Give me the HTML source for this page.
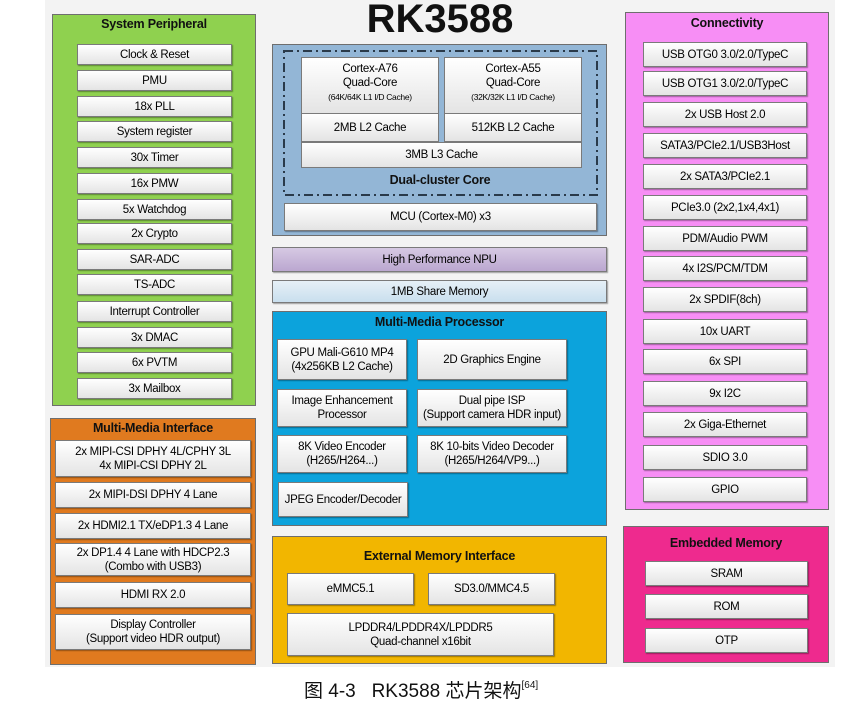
<!DOCTYPE html>
<html><head><meta charset="utf-8"><style>
*{margin:0;padding:0;box-sizing:border-box}
body{width:843px;height:702px;background:#fff;position:relative;overflow:hidden;font-family:"Liberation Sans",sans-serif;color:#111}
.a{position:absolute}
.bg{left:45px;top:0;width:790px;height:667px;background:#f3f3f3}
.g{position:absolute;border:1px solid #6e6e6e}
.b{position:absolute;background:linear-gradient(#ffffff,#e4e4e4);border:1px solid #7a7a7a;box-shadow:1px 1px 1px rgba(0,0,0,.35);display:flex;align-items:center;justify-content:center;text-align:center;font-size:11.5px;line-height:14px;letter-spacing:-.3px;color:#000}
.t{position:absolute;font-weight:bold;font-size:12.5px;text-align:center;letter-spacing:-.2px}
</style></head><body>
<div class="a bg"></div>
<div class="a" style="left:0;width:843px;top:-3px;text-align:center;font-size:40px;font-weight:bold;padding-left:37px">RK3588</div>

<!-- System Peripheral -->
<div class="g" style="left:52px;top:14px;width:204px;height:392px;background:#8fd14f"></div>
<div class="t" style="left:52px;width:204px;top:17px">System Peripheral</div>
<div class="b" style="left:77px;top:44px;width:155px;height:21px">Clock &amp; Reset</div>
<div class="b" style="left:77px;top:70px;width:155px;height:21px">PMU</div>
<div class="b" style="left:77px;top:96px;width:155px;height:21px">18x PLL</div>
<div class="b" style="left:77px;top:121px;width:155px;height:21px">System register</div>
<div class="b" style="left:77px;top:147px;width:155px;height:21px">30x Timer</div>
<div class="b" style="left:77px;top:173px;width:155px;height:21px">16x PMW</div>
<div class="b" style="left:77px;top:199px;width:155px;height:21px">5x Watchdog</div>
<div class="b" style="left:77px;top:223px;width:155px;height:21px">2x Crypto</div>
<div class="b" style="left:77px;top:249px;width:155px;height:21px">SAR-ADC</div>
<div class="b" style="left:77px;top:274px;width:155px;height:21px">TS-ADC</div>
<div class="b" style="left:77px;top:301px;width:155px;height:21px">Interrupt Controller</div>
<div class="b" style="left:77px;top:327px;width:155px;height:21px">3x DMAC</div>
<div class="b" style="left:77px;top:352px;width:155px;height:21px">6x PVTM</div>
<div class="b" style="left:77px;top:378px;width:155px;height:21px">3x Mailbox</div>

<!-- Multi-Media Interface -->
<div class="g" style="left:50px;top:418px;width:206px;height:247px;background:#e07a1f"></div>
<div class="t" style="left:50px;width:206px;top:421px">Multi-Media Interface</div>
<div class="b" style="left:55px;top:440px;width:196px;height:37px">2x MIPI-CSI DPHY 4L/CPHY 3L<br>4x MIPI-CSI DPHY 2L</div>
<div class="b" style="left:55px;top:482px;width:196px;height:26px">2x MIPI-DSI DPHY 4 Lane</div>
<div class="b" style="left:55px;top:513px;width:196px;height:26px">2x HDMI2.1 TX/eDP1.3 4 Lane</div>
<div class="b" style="left:55px;top:543px;width:196px;height:33px">2x DP1.4 4 Lane with HDCP2.3<br>(Combo with USB3)</div>
<div class="b" style="left:55px;top:582px;width:196px;height:26px">HDMI RX 2.0</div>
<div class="b" style="left:55px;top:614px;width:196px;height:36px">Display Controller<br>(Support video HDR output)</div>

<!-- CPU -->
<div class="g" style="left:272px;top:44px;width:335px;height:192px;background:#93b6d6"></div>
<svg class="a" style="left:283px;top:50px" width="315" height="146"><rect x="1" y="1" width="313" height="144" fill="none" stroke="#2a3a4a" stroke-width="2" stroke-dasharray="9 4 2 4"/></svg>
<div class="b" style="left:301px;top:57px;width:138px;height:57px;display:block;padding-top:4px;box-shadow:none">Cortex-A76<br>Quad-Core<br><span style="font-size:8.5px">(64K/64K L1 I/D Cache)</span></div>
<div class="b" style="left:444px;top:57px;width:138px;height:57px;display:block;padding-top:4px;box-shadow:none">Cortex-A55<br>Quad-Core<br><span style="font-size:8.5px">(32K/32K L1 I/D Cache)</span></div>
<div class="b" style="left:301px;top:113px;width:138px;height:29px;box-shadow:none">2MB L2 Cache</div>
<div class="b" style="left:444px;top:113px;width:138px;height:29px;box-shadow:none">512KB L2 Cache</div>
<div class="b" style="left:301px;top:142px;width:281px;height:26px;box-shadow:none">3MB L3 Cache</div>
<div class="t" style="left:283px;width:314px;top:173px">Dual-cluster Core</div>
<div class="b" style="left:284px;top:203px;width:313px;height:28px">MCU (Cortex-M0) x3</div>

<div class="b" style="left:272px;top:247px;width:335px;height:25px;background:linear-gradient(#d6c9e3,#bba7d0)">High Performance NPU</div>
<div class="b" style="left:272px;top:280px;width:335px;height:23px;background:linear-gradient(#e6f0f7,#c9dfee)">1MB Share Memory</div>

<!-- MMP -->
<div class="g" style="left:272px;top:311px;width:335px;height:215px;background:#0ca3dc"></div>
<div class="t" style="left:272px;width:335px;top:315px">Multi-Media Processor</div>
<div class="b" style="left:277px;top:339px;width:130px;height:41px">GPU Mali-G610 MP4<br>(4x256KB L2 Cache)</div>
<div class="b" style="left:417px;top:339px;width:150px;height:41px">2D Graphics Engine</div>
<div class="b" style="left:277px;top:389px;width:130px;height:38px">Image Enhancement<br>Processor</div>
<div class="b" style="left:417px;top:389px;width:150px;height:38px">Dual pipe ISP<br>(Support camera HDR input)</div>
<div class="b" style="left:277px;top:435px;width:130px;height:38px">8K Video Encoder<br>(H265/H264...)</div>
<div class="b" style="left:417px;top:435px;width:150px;height:38px">8K 10-bits Video Decoder<br>(H265/H264/VP9...)</div>
<div class="b" style="left:278px;top:482px;width:130px;height:35px">JPEG Encoder/Decoder</div>

<!-- External memory -->
<div class="g" style="left:272px;top:536px;width:335px;height:128px;background:#f2b600"></div>
<div class="t" style="left:272px;width:335px;top:549px">External Memory Interface</div>
<div class="b" style="left:287px;top:573px;width:127px;height:32px">eMMC5.1</div>
<div class="b" style="left:428px;top:573px;width:127px;height:32px">SD3.0/MMC4.5</div>
<div class="b" style="left:287px;top:613px;width:267px;height:43px">LPDDR4/LPDDR4X/LPDDR5<br>Quad-channel x16bit</div>

<!-- Connectivity -->
<div class="g" style="left:625px;top:12px;width:204px;height:498px;background:#f78ef5"></div>
<div class="t" style="left:625px;width:204px;top:16px">Connectivity</div>
<div class="b" style="left:643px;top:42px;width:164px;height:25px">USB OTG0 3.0/2.0/TypeC</div>
<div class="b" style="left:643px;top:71px;width:164px;height:25px">USB OTG1 3.0/2.0/TypeC</div>
<div class="b" style="left:643px;top:102px;width:164px;height:25px">2x USB Host 2.0</div>
<div class="b" style="left:643px;top:133px;width:164px;height:25px">SATA3/PCIe2.1/USB3Host</div>
<div class="b" style="left:643px;top:164px;width:164px;height:25px">2x SATA3/PCIe2.1</div>
<div class="b" style="left:643px;top:195px;width:164px;height:25px">PCIe3.0 (2x2,1x4,4x1)</div>
<div class="b" style="left:643px;top:226px;width:164px;height:25px">PDM/Audio PWM</div>
<div class="b" style="left:643px;top:256px;width:164px;height:25px">4x I2S/PCM/TDM</div>
<div class="b" style="left:643px;top:287px;width:164px;height:25px">2x SPDIF(8ch)</div>
<div class="b" style="left:643px;top:319px;width:164px;height:25px">10x UART</div>
<div class="b" style="left:643px;top:349px;width:164px;height:25px">6x SPI</div>
<div class="b" style="left:643px;top:381px;width:164px;height:25px">9x I2C</div>
<div class="b" style="left:643px;top:412px;width:164px;height:25px">2x Giga-Ethernet</div>
<div class="b" style="left:643px;top:445px;width:164px;height:25px">SDIO 3.0</div>
<div class="b" style="left:643px;top:477px;width:164px;height:25px">GPIO</div>

<!-- Embedded memory -->
<div class="g" style="left:623px;top:526px;width:206px;height:137px;background:#ee2a8e"></div>
<div class="t" style="left:623px;width:206px;top:536px">Embedded Memory</div>
<div class="b" style="left:645px;top:561px;width:163px;height:25px">SRAM</div>
<div class="b" style="left:645px;top:594px;width:163px;height:25px">ROM</div>
<div class="b" style="left:645px;top:628px;width:163px;height:25px">OTP</div>

<div class="a" style="left:304px;top:676px;font-size:19px;font-family:'Liberation Sans','Noto Sans CJK SC',sans-serif;white-space:nowrap">图 4-3&nbsp;&nbsp; RK3588 芯片架构<sup style="font-size:10px;vertical-align:9px">[64]</sup></div>
</body></html>
